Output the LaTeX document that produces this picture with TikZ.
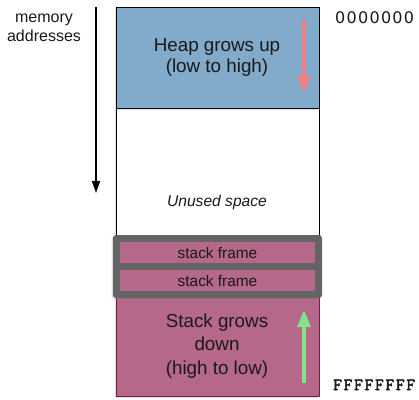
\documentclass[tikz,border=0pt]{standalone}
\usepackage{fontspec}
\setmainfont{Liberation Sans}
\newfontfamily\zerofont[LetterSpace=8]{DejaVu Sans}
\newfontfamily\ffont[FakeBold=3,LetterSpace=10]{Latin Modern Mono}
\usetikzlibrary{arrows.meta,shadows}
\definecolor{heapblue}{RGB}{130,170,202}
\definecolor{stackpink}{RGB}{182,104,138}
\definecolor{stackedge}{RGB}{120,30,70}
\definecolor{framegray}{RGB}{100,100,100}
\definecolor{redarrow}{RGB}{236,128,128}
\definecolor{greenarrow}{RGB}{134,226,134}
\tikzset{
  region/.style={draw=black, line width=0.8pt, drop shadow={opacity=0.25, shadow xshift=-1.5pt, shadow yshift=-1.5pt}},
  lbl/.style={inner sep=0pt, align=center, text=black!90},
  growarrow/.style={line width=3.5pt, -{Triangle[length=17pt,width=13pt]}},
}
\begin{document}
\begin{tikzpicture}[x=1pt,y=-1pt]
\useasboundingbox (0,0) rectangle (419,399);
% regions
\path[region, fill=stackpink, draw=stackedge] (116,237) rectangle (319,396);
\path[region, fill=white] (116,108) rectangle (319,237);
\path[region, fill=heapblue] (116,7) rectangle (319,108);
% stack frames group
\fill[framegray, rounded corners=3pt, drop shadow={opacity=0.25, shadow xshift=-1.5pt, shadow yshift=-1.5pt}] (113,235) rectangle (322,298);
\node[lbl, fill=stackpink, minimum width=195pt, minimum height=21pt, font=\fontsize{15.4}{18}\selectfont] (f1) at (217.5,252.5) {stack frame};
\node[lbl, fill=stackpink, minimum width=195pt, minimum height=21pt, font=\fontsize{15.4}{18}\selectfont] (f2) at (217.5,280.5) {stack frame};
% labels
\node[lbl, font=\fontsize{16}{19}\selectfont] (mem) at (44,28) {memory\\addresses};
\node[lbl, font=\fontsize{18.8}{21}\selectfont] (heap) at (217,57) {Heap grows up\\(low to high)};
\node[lbl, font=\fontsize{15.6}{18}\selectfont\itshape] (unused) at (217,202) {Unused space};
\node[lbl, font=\fontsize{18.8}{23.5}\selectfont] (stack) at (217,346) {Stack grows\\down\\(high to low)};
\node[lbl, anchor=west, font=\fontsize{16}{18}\selectfont\zerofont] (lo) at (335,17.5) {0000000};
\node[lbl, anchor=base west, font=\fontsize{17}{18}\selectfont\ffont] (hi) at (333,390) {FFFFFFFF};
% arrows
\coordinate (m1) at (96,7);
\coordinate (m2) at (96,193);
\draw[line width=1.6pt, -{Triangle[length=12pt,width=8pt]}] (m1) -- (m2);
\coordinate (r1) at (304,20);
\coordinate (r2) at (304,93);
\draw[growarrow, redarrow] (r1) -- (r2);
\coordinate (g1) at (304,383);
\coordinate (g2) at (304,310);
\draw[growarrow, greenarrow] (g1) -- (g2);
\end{tikzpicture}
\end{document}
